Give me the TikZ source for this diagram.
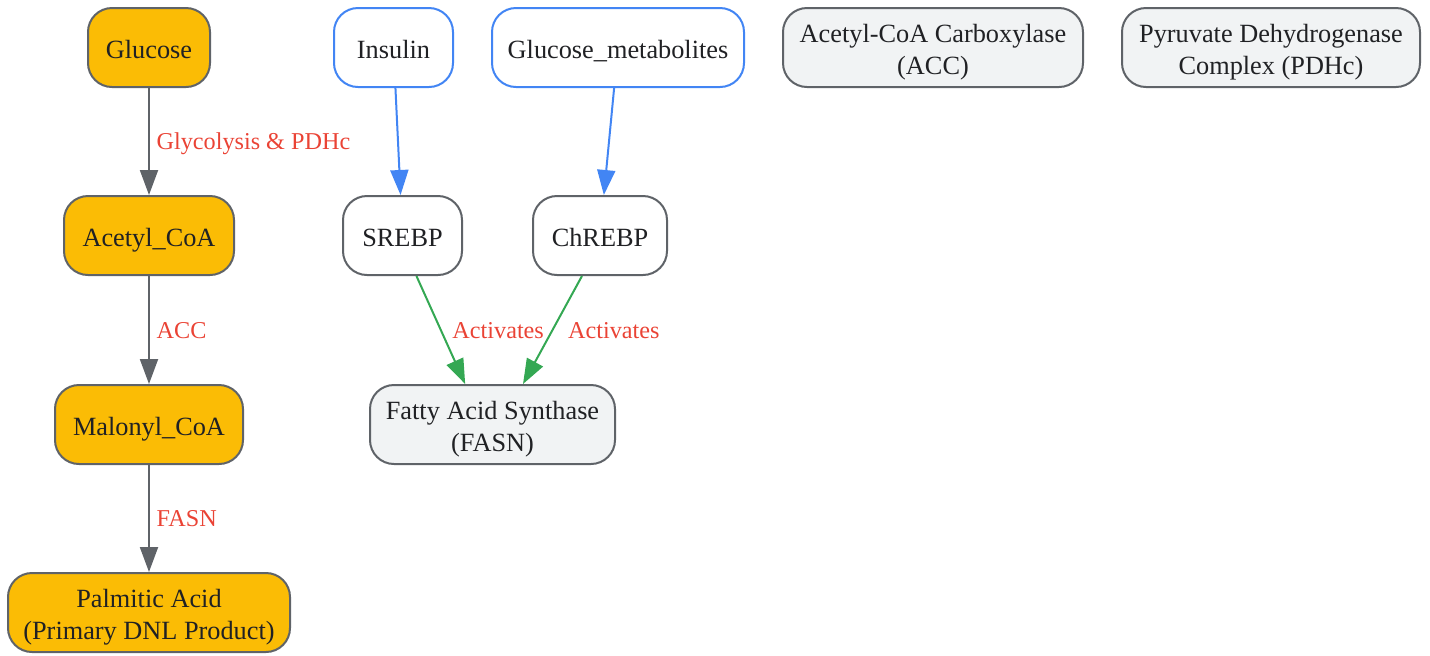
\documentclass[tikz,border=0pt]{standalone}
\usepackage{fontspec}
\setmainfont{Liberation Serif}
\usepackage{tikz}
\usetikzlibrary{arrows.meta}
\definecolor{gold}{HTML}{FBBC05}
\definecolor{edgegray}{HTML}{5F6368}
\definecolor{sigblue}{HTML}{4285F4}
\definecolor{actgreen}{HTML}{34A853}
\definecolor{labred}{HTML}{EA4335}
\definecolor{enzfill}{HTML}{F1F3F4}
\definecolor{inktext}{HTML}{202124}

\begin{document}
\begin{tikzpicture}[
x=0.5pt,y=-0.5pt,
font=\fontsize{13.15}{16.2}\selectfont,
box/.style={draw=edgegray,line width=1pt,rounded corners=12pt,minimum height=39.5pt,inner sep=0pt,align=center,text=inktext,text height=11pt,text depth=0pt},
twoline/.style={text height=27.2pt},
metab/.style={box,fill=gold},
hormone/.style={box,draw=sigblue,fill=white},
factor/.style={box,fill=white},
enzyme/.style={box,fill=enzfill},
flow/.style={-{Triangle[length=12.5pt,width=9pt]},line width=1pt,draw=edgegray},
signal/.style={flow,draw=sigblue},
activ/.style={flow,draw=actgreen},
lab/.style={text=labred,font=\fontsize{12.1}{14}\selectfont,text height=8pt,text depth=0pt}]
    % frame of the picture
    \useasboundingbox (0,0) rectangle (1430,655);

    % top row
    \node[metab,minimum width=61pt] (Glucose) at (149,47.5) {Glucose};
    \node[hormone,minimum width=59.5pt] (Insulin) at (393.5,47.5) {Insulin};
    \node[hormone,minimum width=126pt] (Metabolites) at (618,47.5) {Glucose\_metabolites};
    \node[enzyme,twoline,minimum width=150pt] (ACC) at (933,47.5) {Acetyl-CoA Carboxylase\\(ACC)};
    \node[enzyme,twoline,minimum width=149pt] (PDHc) at (1271,47.5) {Pyruvate Dehydrogenase\\Complex (PDHc)};

    % second row
    \node[metab,minimum width=85pt] (AcetylCoA) at (149,235.5) {Acetyl\_CoA};
    \node[factor,minimum width=59.5pt] (SREBP) at (402.5,235.5) {SREBP};
    \node[factor,minimum width=67pt] (ChREBP) at (600,235.5) {ChREBP};

    % third and fourth row
    \node[metab,minimum width=94pt] (MalonylCoA) at (149,424.5) {Malonyl\_CoA};
    \node[enzyme,twoline,minimum width=122.5pt] (FASN) at (492.5,424.5) {Fatty Acid Synthase\\(FASN)};
    \node[metab,twoline,minimum width=141pt] (Palmitic) at (149,612.5) {Palmitic Acid\\(Primary DNL Product)};

    % pathway
    \draw[flow] (Glucose) -- node[lab,right] {Glycolysis \& PDHc} (AcetylCoA);
    \draw[flow] (AcetylCoA) -- node[lab,right] {ACC} (MalonylCoA);
    \draw[flow] (MalonylCoA) -- node[lab,right] {FASN} (Palmitic);

    % regulation
    \draw[signal] (Insulin) -- (SREBP);
    \draw[signal] (Metabolites) -- (ChREBP);
    \draw[activ] (SREBP.-71) -- node[lab,right,xshift=2pt] {Activates} (FASN.124);
    \draw[activ] (ChREBP.-114.5) -- node[lab,right,xshift=4pt] {Activates} (FASN.53.3);

\end{tikzpicture}
\end{document}
